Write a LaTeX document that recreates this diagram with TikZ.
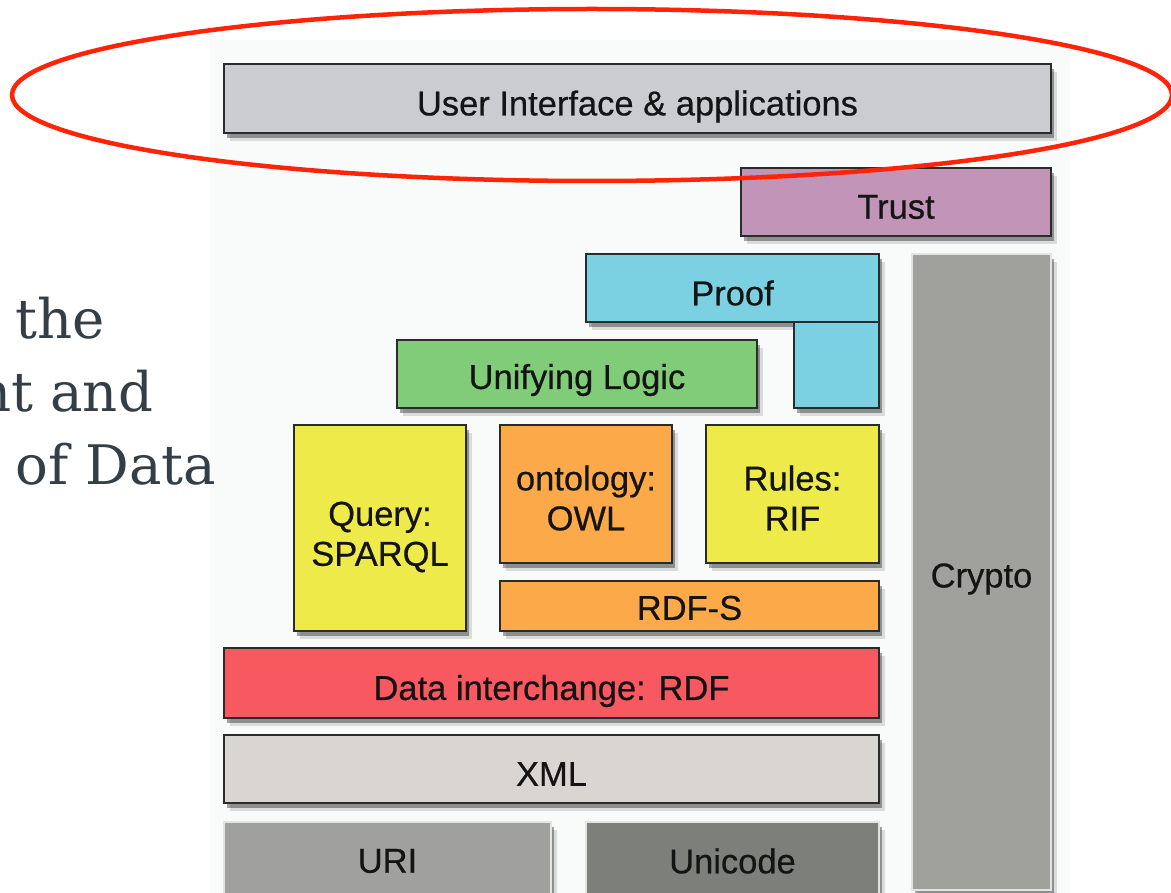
\documentclass[tikz,border=0pt]{standalone}
\usepackage{fontspec}
\newfontfamily\boxfont{Liberation Sans}[FakeBold=0.5]
\newfontfamily\slidefont{DejaVu Serif}
\usetikzlibrary{shadows}
\definecolor{edgecol}{HTML}{2A2B2B}
\definecolor{lightedge}{HTML}{E4E5E3}
\definecolor{uicol}{HTML}{CBCCD0}
\definecolor{trustcol}{HTML}{C194B8}
\definecolor{proofcol}{HTML}{7BD1E2}
\definecolor{logiccol}{HTML}{80CC78}
\definecolor{yellowcol}{HTML}{EEEA4A}
\definecolor{orangecol}{HTML}{FCA94A}
\definecolor{rdfcol}{HTML}{F85860}
\definecolor{xmlcol}{HTML}{D9D5D0}
\definecolor{uricol}{HTML}{A0A19F}
\definecolor{unicol}{HTML}{7D7F7B}
\definecolor{cryptocol}{HTML}{A0A19D}
\definecolor{slidetext}{HTML}{333E47}
\definecolor{panelcol}{HTML}{F9FAFA}
\definecolor{markred}{HTML}{FF2408}
\tikzset{
  layer/.style={draw=edgecol, line width=2.2pt, inner sep=0pt,
    drop shadow={shadow xshift=6pt, shadow yshift=-8pt, opacity=0.12, fill=black},
    drop shadow={shadow xshift=3pt, shadow yshift=-5pt, opacity=0.35, fill=black}},
  softlayer/.style={layer, draw=lightedge, line width=1.5pt},
  lbl/.style={inner sep=0pt, text=black!92, align=center,
    font=\boxfont\fontsize{34.5}{40}\selectfont},
  slideline/.style={anchor=base west, inner sep=0pt, text=slidetext,
    font=\slidefont\fontsize{54.5}{73}\selectfont},
  marker/.style={draw=markred, line width=4.5pt}
}
\begin{document}
\begin{tikzpicture}[x=1pt, y=-1pt]
\useasboundingbox (0,0) rectangle (1171,893);
\fill[panelcol] (210,40) rectangle (1070,893);

% left slide text (cut off by the page edge, as in the reference)
\node[slideline] (t1) at (15,339) {the};
\node[slideline] (t2) at (-24,412) {nt and};
\node[slideline] (t3) at (15,485) {of Data};

% layer boxes
\node[layer, fill=uicol, minimum width=827, minimum height=69] (ui) at (637.5,98.5) {};
\node[layer, fill=trustcol, minimum width=310, minimum height=68] (trust) at (896,202) {};
\node[softlayer, fill=cryptocol, minimum width=139, minimum height=636] (crypto) at (981.5,572) {};
\node[layer, fill=proofcol, minimum width=293, minimum height=68] (proof) at (732.5,288) {};
\node[layer, fill=proofcol, minimum width=85, minimum height=86] (prooflow) at (836.5,365) {};
\node[layer, fill=logiccol, minimum width=360, minimum height=68] (logic) at (577,374) {};
\node[layer, fill=yellowcol, minimum width=172, minimum height=206] (query) at (380,528) {};
\node[layer, fill=orangecol, minimum width=172, minimum height=138] (owl) at (586,494) {};
\node[layer, fill=yellowcol, minimum width=173, minimum height=138] (rif) at (792.5,494) {};
\node[layer, fill=orangecol, minimum width=379, minimum height=50] (rdfs) at (689.5,606) {};
\node[layer, fill=rdfcol, minimum width=655, minimum height=70] (rdf) at (551.5,683) {};
\node[layer, fill=xmlcol, minimum width=655, minimum height=68] (xml) at (551.5,769) {};
\node[softlayer, fill=uricol, minimum width=327, minimum height=78] (uri) at (387.5,861) {};
\node[softlayer, fill=unicol, minimum width=293, minimum height=78] (unicode) at (732.5,861) {};

% layer labels
\node[lbl] (uiT) at ([yshift=-8pt]ui.center) {User Interface \& applications};
\node[lbl] (trustT) at ([yshift=-5pt]trust.center) {Trust};
\node[lbl] (cryptoT) at ([yshift=-7pt]crypto.center) {Crypto};
\node[lbl] (proofT) at ([yshift=-5pt]proof.center) {Proof};
\node[lbl] (logicT) at ([yshift=-6pt]logic.center) {Unifying Logic};
\node[lbl] (queryT) at ([yshift=-9pt]query.center) {Query:\\SPARQL};
\node[lbl] (owlT) at ([yshift=-4pt]owl.center) {ontology:\\OWL};
\node[lbl] (rifT) at ([yshift=-4pt]rif.center) {Rules:\\RIF};
\node[lbl] (rdfsT) at ([yshift=-2pt]rdfs.center) {RDF-S};
\node[lbl] (rdfT) at ([yshift=-8pt]rdf.center) {Data interchange: RDF};
\node[lbl] (xmlT) at ([yshift=-5pt]xml.center) {XML};
\node[lbl] (uriT) at (uri.center) {URI};
\node[lbl] (unicodeT) at (unicode.center) {Unicode};

% red highlight ellipse
\draw[marker] (592,95) ellipse [x radius=580, y radius=86];
\end{tikzpicture}
\end{document}
